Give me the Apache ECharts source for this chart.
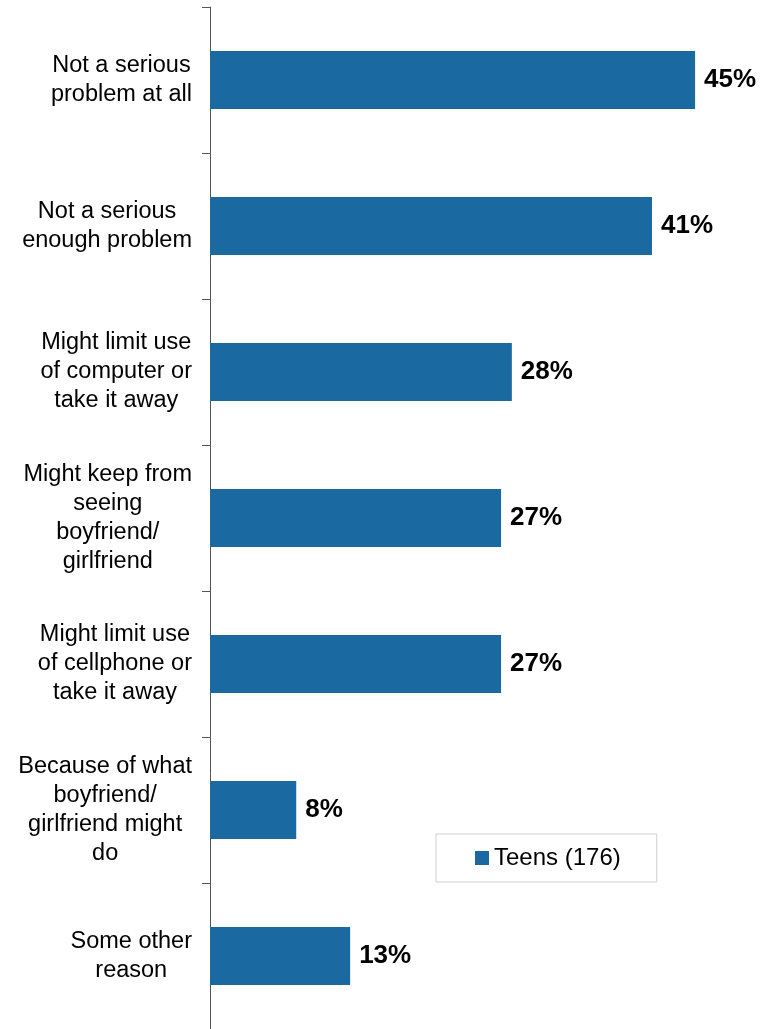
<!DOCTYPE html>
<html>
<head>
<meta charset="utf-8">
<script src="https://cdn.jsdelivr.net/npm/echarts@6/dist/echarts.min.js"></script>
<style>html,body{margin:0;padding:0;background:#fff}#c{width:760px;height:1029px}</style>
</head>
<body>
<div id="c"></div>
<script>
const categories = [
  "Not a serious\nproblem at all",
  "Not a serious\nenough problem",
  "Might limit use\nof computer or\ntake it away",
  "Might keep from\nseeing\nboyfriend/\ngirlfriend",
  "Might limit use\nof cellphone or\ntake it away",
  "Because of what\nboyfriend/\ngirlfriend might\ndo",
  "Some other\nreason"
];
const seriesName = "Teens (176)";
const values = [45, 41, 28, 27, 27, 8, 13];

const FONT = "'Liberation Sans', Arial, sans-serif";
const chart = echarts.init(document.getElementById('c'), null, {renderer: 'canvas'});
chart.setOption({
  animation: false,
  backgroundColor: '#ffffff',
  grid: {left: 210, right: 11, top: 7, bottom: 0, containLabel: false},
  legend: {
    data: [seriesName],
    left: 436, top: 834,
    padding: [12, 36, 12, 39],
    borderColor: '#d0d0d0', borderWidth: 1,
    backgroundColor: '#ffffff',
    itemWidth: 14, itemHeight: 14,
    icon: 'rect',
    textStyle: {fontFamily: FONT, fontSize: 24, color: '#000'}
  },
  xAxis: {type: 'value', min: 0, max: 50, show: false},
  yAxis: {
    type: 'category', inverse: true, data: categories,
    axisLine: {show: true, lineStyle: {color: '#555', width: 1}},
    axisTick: {show: true, length: 8, lineStyle: {color: '#555'}},
    axisLabel: {
      margin: 18, align: 'right', color: '#000',
      fontFamily: FONT, fontSize: 23.5, lineHeight: 29,
      formatter: v => v.split('\n').map(s => '{a|' + s + '}').join('\n'),
      rich: {a: {align: 'center', fontFamily: FONT, fontSize: 23.5, lineHeight: 29, color: '#000'}}
    }
  },
  series: [{
    name: seriesName, type: 'bar', data: values, barWidth: 58,
    itemStyle: {color: '#1B69A1'},
    label: {show: true, position: 'right', distance: 9, formatter: '{c}%',
      fontFamily: FONT, fontSize: 26, fontWeight: 'bold', color: '#000'}
  }]
});
</script>
</body>
</html>
